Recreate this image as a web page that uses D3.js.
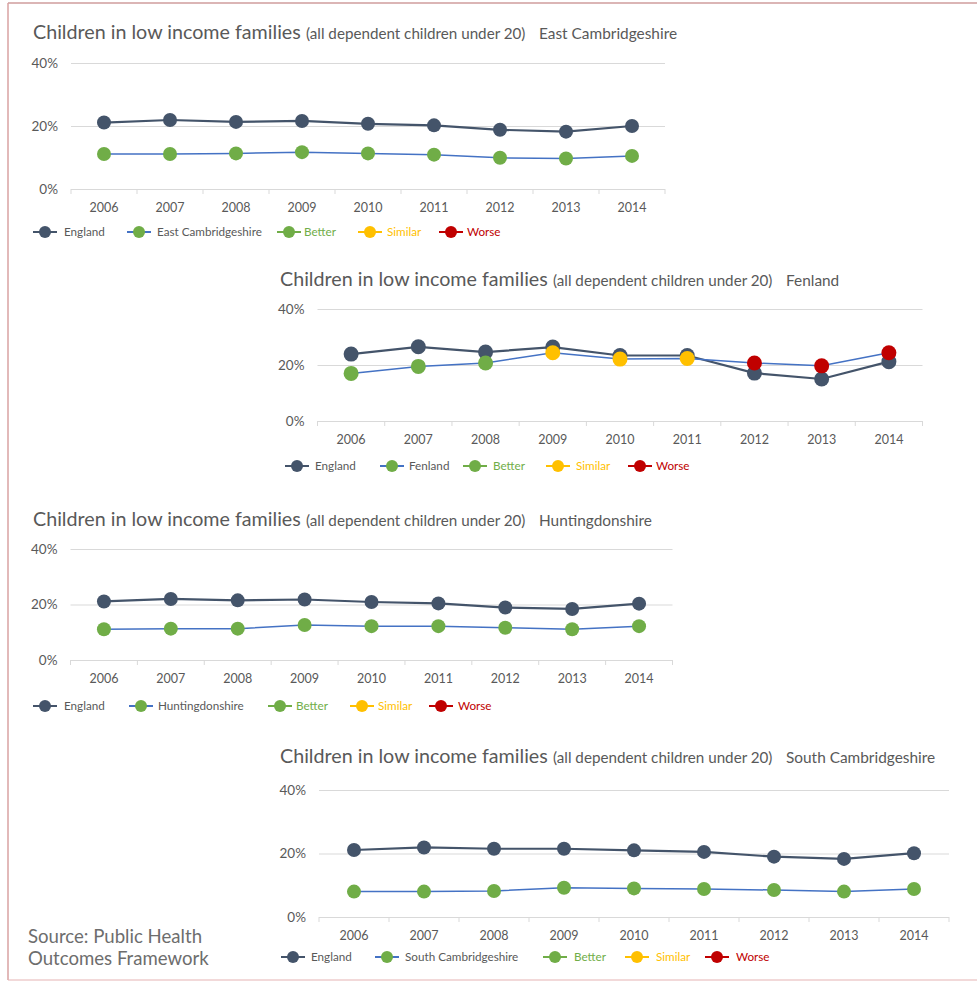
<!DOCTYPE html>
<html><head><meta charset="utf-8">
<script src="https://cdn.jsdelivr.net/npm/d3@7/dist/d3.min.js"></script>
<style>body{margin:0;background:#fff}svg{display:block}</style>
</head><body>
<svg id="c" width="977" height="981"></svg>
<script>
// ---------- data ----------
const years = ["2006","2007","2008","2009","2010","2011","2012","2013","2014"];
const yTickValues = [0, 20, 40];
const chartTitle = "Children in low income families";
const chartSubtitle = "(all dependent children under 20)";
const sourceLines = ["Source: Public Health", "Outcomes Framework"];
const statusNames = ["Better", "Similar", "Worse"];

const areaNames = ["East Cambridgeshire", "Fenland", "Huntingdonshire", "South Cambridgeshire"];

const englandEastCambs  = [21.1, 21.9, 21.3, 21.6, 20.7, 20.2, 18.8, 18.2, 20.0];
const eastCambs         = [11.1, 11.1, 11.3, 11.7, 11.3, 10.9, 9.9, 9.7, 10.5];
const eastCambsStatus   = ["Better","Better","Better","Better","Better","Better","Better","Better","Better"];

const englandFenland    = [23.9, 26.5, 24.6, 26.4, 23.4, 23.4, 17.1, 15.0, 21.2];
const fenland           = [17.0, 19.5, 20.7, 24.4, 22.1, 22.3, 20.7, 19.7, 24.4];
const fenlandStatus     = ["Better","Better","Better","Similar","Similar","Similar","Worse","Worse","Worse"];

const englandHunts      = [21.1, 22.0, 21.5, 21.8, 20.9, 20.4, 18.9, 18.4, 20.3];
const huntingdonshire   = [11.1, 11.3, 11.3, 12.6, 12.2, 12.2, 11.6, 11.1, 12.2];
const huntsStatus       = ["Better","Better","Better","Better","Better","Better","Better","Better","Better"];

const englandSouthCambs = [21.1, 21.9, 21.5, 21.5, 21.0, 20.5, 19.0, 18.3, 20.1];
const southCambs        = [8.0, 8.0, 8.2, 9.2, 9.0, 8.8, 8.5, 8.0, 8.8];
const southCambsStatus  = ["Better","Better","Better","Better","Better","Better","Better","Better","Better"];

// ---------- styles ----------
const FONT = "Lato, 'Open Sans', sans-serif";
const TEXT = "#595959";
const ENG = "#44546a";
const AREA_LINE = "#4472c4";
const statusColor = {Better: "#70ad47", Similar: "#ffc000", Worse: "#c00000"};
const GRID = "#d9d9d9";

const svg = d3.select("#c");

// page frame
svg.append("line").attr("x1", 8).attr("x2", 977).attr("y1", 3).attr("y2", 3).attr("stroke", "#cf9c9c").attr("stroke-width", 1.5);
svg.append("line").attr("x1", 8).attr("x2", 8).attr("y1", 3).attr("y2", 980).attr("stroke", "#d8a2a2").attr("stroke-width", 1.5);
svg.append("line").attr("x1", 8).attr("x2", 977).attr("y1", 980).attr("y2", 980).attr("stroke", "#e6b3b3").attr("stroke-width", 1.2);

function drawChart(cfg) {
  const g = svg.append("g");
  // title
  g.append("text").attr("x", cfg.titleX).attr("y", cfg.titleY)
    .attr("font-family", FONT).attr("font-size", 19.7).attr("fill", TEXT).text(chartTitle);
  g.append("text").attr("x", cfg.titleX + 273).attr("y", cfg.titleY)
    .attr("font-family", FONT).attr("font-size", 15.2).attr("fill", TEXT).text(chartSubtitle);
  g.append("text").attr("x", cfg.titleX + 506).attr("y", cfg.titleY)
    .attr("font-family", FONT).attr("font-size", 15.4).attr("fill", TEXT).text(cfg.area);

  const x = d3.scaleBand().domain(years).range([cfg.left, cfg.right]);
  const y = d3.scaleLinear().domain([0, 40]).range([cfg.bottom, cfg.top]);
  const cx = d => x(d.year) + x.bandwidth() / 2;

  // y axis with gridlines
  const ya = g.append("g").attr("transform", `translate(${cfg.left},0)`)
    .call(d3.axisLeft(y).tickValues(yTickValues).tickSize(-(cfg.right - cfg.left)).tickPadding(13).tickFormat(d => d + "%"));
  ya.select(".domain").remove();
  ya.selectAll(".tick line").attr("stroke", GRID).attr("stroke-width", 1);
  ya.selectAll(".tick text").attr("font-family", FONT).attr("font-size", 13.5).attr("fill", TEXT);

  // x axis labels
  const xa = g.append("g").attr("transform", `translate(0,${cfg.bottom})`)
    .call(d3.axisBottom(x).tickSize(0).tickPadding(cfg.labelPad));
  xa.select(".domain").remove();
  xa.selectAll(".tick text").attr("font-family", FONT).attr("font-size", 12.5).attr("fill", TEXT);
  // category boundary ticks
  g.selectAll(".bt").data(d3.range(years.length + 1)).join("line")
    .attr("x1", i => cfg.left + i * x.step()).attr("x2", i => cfg.left + i * x.step())
    .attr("y1", cfg.bottom).attr("y2", cfg.bottom + 5).attr("stroke", GRID);

  const engData = years.map((yr, i) => ({year: yr, v: cfg.eng[i]}));
  const areaData = years.map((yr, i) => ({year: yr, v: cfg.vals[i], s: cfg.status[i]}));
  const line = d3.line().x(cx).y(d => y(d.v));

  g.append("path").datum(engData).attr("d", line).attr("fill", "none").attr("stroke", ENG).attr("stroke-width", 2.2);
  g.selectAll(".em").data(engData).join("circle").attr("cx", cx).attr("cy", d => y(d.v)).attr("r", cfg.r).attr("fill", ENG);
  g.append("path").datum(areaData).attr("d", line).attr("fill", "none").attr("stroke", AREA_LINE).attr("stroke-width", 1.5);
  g.selectAll(".am").data(areaData).join("circle").attr("cx", cx).attr("cy", d => y(d.v)).attr("r", cfg.r).attr("fill", d => statusColor[d.s]);

  // legend
  const items = [
    {label: "England", line: ENG, marker: ENG, text: TEXT},
    {label: cfg.area, line: AREA_LINE, marker: statusColor.Better, text: TEXT},
    ...statusNames.map(s => ({label: s, line: statusColor[s], marker: statusColor[s], text: statusColor[s]}))
  ];
  items.forEach((it, i) => {
    const mx = cfg.legendMarkers[i];
    g.append("line").attr("x1", mx - 12).attr("x2", mx + 12).attr("y1", cfg.legendY).attr("y2", cfg.legendY)
      .attr("stroke", it.line).attr("stroke-width", 2);
    g.append("circle").attr("cx", mx).attr("cy", cfg.legendY).attr("r", 6).attr("fill", it.marker);
    g.append("text").attr("x", cfg.legendTexts[i]).attr("y", cfg.legendY + 4)
      .attr("font-family", FONT).attr("font-size", 11.7).attr("fill", it.text).text(it.label);
  });
}

drawChart({area: areaNames[0], eng: englandEastCambs, vals: eastCambs, status: eastCambsStatus,
  titleX: 33, titleY: 39, left: 71, right: 665, top: 63, bottom: 189, labelPad: 14, r: 7,
  legendY: 232, legendMarkers: [45, 139, 289, 370, 451], legendTexts: [64, 157, 304, 387, 467]});

drawChart({area: areaNames[1], eng: englandFenland, vals: fenland, status: fenlandStatus,
  titleX: 280, titleY: 286, left: 317.5, right: 922.5, top: 309, bottom: 421, labelPad: 14, r: 7.5,
  legendY: 466, legendMarkers: [297, 392, 475, 558, 640], legendTexts: [315, 409, 493, 576, 656]});

drawChart({area: areaNames[2], eng: englandHunts, vals: huntingdonshire, status: huntsStatus,
  titleX: 33, titleY: 526, left: 70.5, right: 672.5, top: 549, bottom: 660, labelPad: 14, r: 7,
  legendY: 706, legendMarkers: [45, 141, 280, 362, 441], legendTexts: [64, 158, 296, 378, 458]});

drawChart({area: areaNames[3], eng: englandSouthCambs, vals: southCambs, status: southCambsStatus,
  titleX: 280, titleY: 763, left: 319, right: 949, top: 790, bottom: 917, labelPad: 14, r: 7,
  legendY: 957, legendMarkers: [293, 387, 555, 637, 717], legendTexts: [311, 405, 574, 656, 736]});

// source note
sourceLines.forEach((t, i) => {
  svg.append("text").attr("x", 28).attr("y", 943 + i * 22).attr("font-family", FONT)
    .attr("font-size", 18.6).attr("fill", "#6d6d6d").text(t);
});
</script>
</body></html>
